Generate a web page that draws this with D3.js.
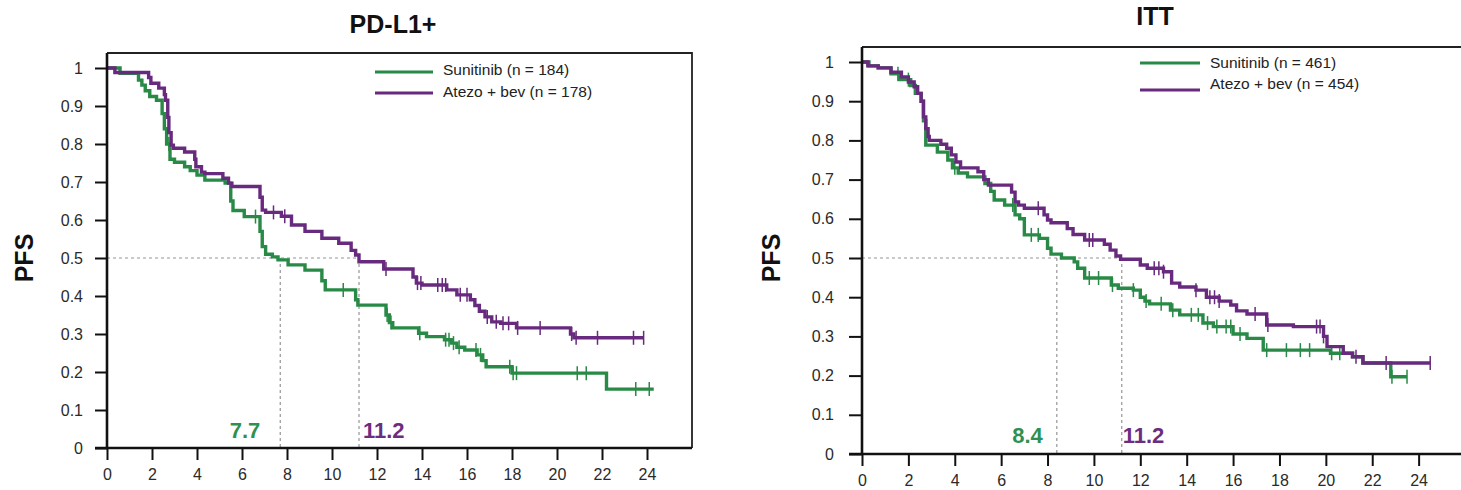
<!DOCTYPE html>
<html><head><meta charset="utf-8">
<script src="https://cdn.jsdelivr.net/npm/d3@7"></script>
<style>
html,body{margin:0;padding:0;background:#fff;}
svg{display:block;font-family:"Liberation Sans",Arial,Helvetica,sans-serif;}
</style></head><body>
<svg id="chart" width="1461" height="490"></svg>
<script>
// ---- Kaplan–Meier step data: [months, PFS probability] ----
const pdl1Sunitinib = [[0,1],[0.58,0.986],[1.4,0.968],[1.55,0.955],[1.7,0.94],[1.9,0.925],[2.2,0.915],[2.45,0.88],[2.55,0.84],[2.65,0.8],[2.8,0.76],[3.0,0.752],[3.45,0.74],[3.7,0.73],[4.0,0.718],[4.35,0.705],[5.25,0.697],[5.5,0.65],[5.6,0.625],[6.1,0.609],[6.8,0.57],[6.9,0.53],[7.05,0.51],[7.35,0.503],[7.6,0.495],[8.05,0.482],[8.8,0.468],[9.55,0.44],[9.7,0.416],[11.05,0.39],[11.15,0.376],[12.4,0.35],[12.55,0.33],[12.7,0.316],[13.85,0.302],[14.2,0.293],[15.0,0.285],[15.3,0.276],[15.55,0.265],[15.9,0.258],[16.45,0.245],[16.7,0.23],[16.85,0.214],[18.0,0.197],[22.2,0.155]];
const pdl1SunitinibEnd = 24.3;
const pdl1SunitinibCensor = [2.75,6.6,10.5,12.45,12.62,13.9,15.05,15.2,15.4,15.65,16.4,16.6,17.9,18.05,18.2,20.9,21.3,23.5,24.1];

const pdl1Atezo = [[0,1],[0.35,0.988],[1.85,0.975],[1.95,0.96],[2.3,0.947],[2.55,0.93],[2.6,0.915],[2.7,0.87],[2.75,0.83],[2.85,0.797],[2.95,0.789],[3.45,0.779],[3.9,0.76],[3.95,0.74],[4.2,0.726],[4.35,0.722],[5.15,0.71],[5.4,0.697],[5.55,0.688],[6.8,0.66],[6.9,0.626],[7.05,0.62],[7.75,0.61],[8.2,0.587],[8.8,0.57],[9.55,0.552],[10.3,0.539],[10.85,0.52],[11.05,0.508],[11.2,0.49],[12.3,0.471],[13.6,0.45],[13.75,0.434],[14.0,0.429],[15.1,0.416],[15.55,0.403],[16.15,0.39],[16.35,0.375],[16.55,0.36],[16.8,0.345],[17.1,0.332],[17.5,0.328],[18.2,0.316],[20.6,0.3],[20.75,0.29]];
const pdl1AtezoEnd = 23.85;
const pdl1AtezoCensor = [7.4,7.9,12.4,13.8,13.95,14.7,14.9,15.05,15.7,16.0,16.9,17.3,17.6,17.85,18.25,19.25,20.65,20.85,21.8,23.4,23.85];

const ittSunitinib = [[0,1],[0.3,0.99],[0.7,0.985],[1.25,0.97],[1.6,0.955],[2.1,0.94],[2.3,0.92],[2.55,0.9],[2.65,0.85],[2.75,0.788],[3.25,0.77],[3.7,0.75],[3.9,0.73],[4.15,0.717],[4.55,0.707],[5.3,0.69],[5.55,0.67],[5.7,0.648],[6.15,0.635],[6.6,0.61],[6.8,0.6],[7.0,0.559],[7.65,0.55],[8.0,0.525],[8.15,0.51],[8.6,0.5],[9.15,0.49],[9.3,0.474],[9.6,0.449],[10.75,0.431],[11.05,0.423],[11.7,0.418],[12.0,0.4],[12.2,0.39],[12.4,0.383],[13.3,0.367],[13.7,0.355],[14.7,0.334],[15.15,0.325],[16.0,0.306],[16.6,0.295],[17.3,0.265],[20.2,0.257],[21.15,0.248],[21.6,0.232],[22.8,0.197]];
const ittSunitinibEnd = 23.5;
const ittSunitinibCensor = [1.55,2.0,4.0,6.5,7.3,7.6,9.8,10.2,10.8,11.7,12.25,12.9,13.4,14.2,14.5,14.9,15.3,15.7,15.9,16.3,17.45,18.3,18.9,19.3,20.25,20.6,22.85,23.5];

const ittAtezo = [[0,1],[0.25,0.99],[0.7,0.985],[1.25,0.974],[1.7,0.962],[2.0,0.949],[2.25,0.937],[2.4,0.92],[2.55,0.9],[2.65,0.86],[2.75,0.83],[2.85,0.81],[2.9,0.8],[3.4,0.79],[3.65,0.78],[3.85,0.763],[4.05,0.745],[4.25,0.73],[5.0,0.72],[5.25,0.7],[5.45,0.686],[6.45,0.668],[6.6,0.643],[6.75,0.635],[7.0,0.627],[7.85,0.61],[8.0,0.597],[8.15,0.59],[8.85,0.575],[9.1,0.56],[9.6,0.546],[10.45,0.535],[10.7,0.52],[10.95,0.505],[11.15,0.497],[12.0,0.482],[12.3,0.474],[13.0,0.465],[13.35,0.436],[13.7,0.426],[14.4,0.418],[14.85,0.4],[15.4,0.39],[15.9,0.38],[16.15,0.365],[16.6,0.357],[17.45,0.329],[18.6,0.325],[19.9,0.3],[20.05,0.274],[20.75,0.257],[21.15,0.248],[21.6,0.232]];
const ittAtezoEnd = 24.5;
const ittAtezoCensor = [7.6,9.8,9.95,12.6,12.8,13.0,14.4,15.0,15.2,15.4,16.95,17.5,19.6,19.75,19.9,21.3,22.6,24.5];

// ---- axis ticks and labels ----
const xTickValues = [0,2,4,6,8,10,12,14,16,18,20,22,24];
const yTickValues = [0,0.1,0.2,0.3,0.4,0.5,0.6,0.7,0.8,0.9,1];
const yTickLabels = ["0","0.1","0.2","0.3","0.4","0.5","0.6","0.7","0.8","0.9","1"];

const seriesNames = ["Sunitinib", "Atezo + bev"];
const pdl1Counts = [184, 178];
const ittCounts = [461, 454];
const pdl1Medians = [7.7, 11.2];
const ittMedians = [8.4, 11.2];
const panelTitles = ["PD-L1+", "ITT"];

const GREEN = "#288a46";
const PURPLE = "#682a7e";
const GREEN_TXT = "#2f9150";
const PURPLE_TXT = "#6c2d80";

const svg = d3.select("#chart");

function survivalAt(steps, t) {
  let v = steps[0][1];
  for (const [tt, s] of steps) { if (tt <= t) v = s; else break; }
  return v;
}

function drawPanel(cfg) {
  const g = svg.append("g");
  const x = d3.scaleLinear().domain([0, 26]).range([cfg.left, cfg.right]);
  const y = d3.scaleLinear().domain([0, 1]).range([cfg.bottom, cfg.top]);

  // title
  g.append("text").attr("x", cfg.titleX).attr("y", cfg.titleY)
    .attr("text-anchor", "middle").attr("font-weight", "bold")
    .attr("font-size", 25).attr("fill", "#111").text(cfg.title);

  // y-axis title
  g.append("text")
    .attr("transform", `translate(${cfg.ylabX},${y(0.5)}) rotate(-90)`)
    .attr("text-anchor", "middle").attr("font-weight", "bold")
    .attr("font-size", 25).attr("fill", "#111").text("PFS");

  // frame (top and right)
  g.append("path")
    .attr("d", `M${cfg.left},${cfg.frameTop}H${cfg.right}V${cfg.bottom}`)
    .attr("fill", "none").attr("stroke", "#222").attr("stroke-width", 1.8);

  // median reference lines
  const ref = g.append("g").attr("stroke", "#959595").attr("stroke-width", 1.2)
    .attr("stroke-dasharray", "3,3");
  ref.append("line").attr("x1", x(0)).attr("x2", x(cfg.medians[1]))
    .attr("y1", y(0.5)).attr("y2", y(0.5));
  cfg.medians.forEach(m => {
    ref.append("line").attr("x1", x(m)).attr("x2", x(m))
      .attr("y1", y(0.5)).attr("y2", y(0));
  });

  // KM curves
  const line = d3.line().x(d => x(d[0])).y(d => y(d[1])).curve(d3.curveStepAfter);
  cfg.series.forEach(s => {
    const pts = s.steps.concat([[s.end, s.steps[s.steps.length - 1][1]]]);
    g.append("path").datum(pts).attr("d", line)
      .attr("fill", "none").attr("stroke", s.color).attr("stroke-width", 3.4)
      .attr("stroke-linejoin", "miter");
    g.append("g").selectAll("line").data(s.censor).join("line")
      .attr("x1", d => x(d)).attr("x2", d => x(d))
      .attr("y1", d => y(survivalAt(s.steps, d)) - 7)
      .attr("y2", d => y(survivalAt(s.steps, d)) + 7)
      .attr("stroke", s.color).attr("stroke-width", 1.5);
  });

  // median labels
  g.append("text").attr("x", x(cfg.medians[0]) + cfg.medOff[0]).attr("y", cfg.medLabelY)
    .attr("text-anchor", "end").attr("font-weight", "bold").attr("font-size", 22)
    .attr("fill", GREEN_TXT).text(String(cfg.medians[0]));
  g.append("text").attr("x", x(cfg.medians[1]) + cfg.medOff[1]).attr("y", cfg.medLabelY)
    .attr("text-anchor", "start").attr("font-weight", "bold").attr("font-size", 22)
    .attr("fill", PURPLE_TXT).text(String(cfg.medians[1]));

  // axes
  const ax = g.append("g").attr("transform", `translate(0,${cfg.bottom})`)
    .call(d3.axisBottom(x).tickValues(xTickValues).tickSize(12).tickPadding(9).tickSizeOuter(0));
  const ay = g.append("g").attr("transform", `translate(${cfg.left},0)`)
    .call(d3.axisLeft(y).tickValues(yTickValues).tickFormat((d, i) => yTickLabels[i])
      .tickSize(cfg.yTick).tickPadding(cfg.yPad).tickSizeOuter(0));
  [ax, ay].forEach(a => {
    a.select(".domain").attr("stroke", "#111").attr("stroke-width", 2.6);
    a.selectAll(".tick line").attr("stroke", "#111").attr("stroke-width", 2);
    a.selectAll(".tick text").attr("font-size", 16).attr("fill", "#2a2a2a")
      .attr("font-family", "'Liberation Sans',Arial,sans-serif");
  });
  ay.select(".domain").attr("d", `M0,${cfg.bottom}V${cfg.frameTop}`);
  ax.select(".domain").attr("d", `M${cfg.left - cfg.yTick},0H${cfg.right}`);

  // legend
  const lg = g.append("g");
  cfg.series.forEach((s, i) => {
    lg.append("line").attr("x1", cfg.legX).attr("x2", cfg.legX + cfg.legLen)
      .attr("y1", cfg.legLineY[i]).attr("y2", cfg.legLineY[i])
      .attr("stroke", s.color).attr("stroke-width", 3);
    lg.append("text").attr("x", cfg.legTextX).attr("y", cfg.legTextY[i])
      .attr("font-size", 15.5).attr("fill", "#222")
      .text(`${seriesNames[i]} (n = ${cfg.counts[i]})`);
  });
}

drawPanel({
  title: panelTitles[0], titleX: 393, titleY: 33,
  left: 107, right: 692, top: 68, bottom: 448, frameTop: 53,
  ylabX: 33, yTick: 12, yPad: 12,
  medians: pdl1Medians, medOff: [-20, 4], medLabelY: 438,
  counts: pdl1Counts,
  legX: 375, legLen: 58, legLineY: [72, 93], legTextX: 443, legTextY: [75, 97],
  series: [
    { steps: pdl1Sunitinib, end: pdl1SunitinibEnd, censor: pdl1SunitinibCensor, color: GREEN },
    { steps: pdl1Atezo, end: pdl1AtezoEnd, censor: pdl1AtezoCensor, color: PURPLE }
  ]
});

drawPanel({
  title: panelTitles[1], titleX: 1155, titleY: 25,
  left: 862, right: 1465, top: 62, bottom: 454, frameTop: 47,
  ylabX: 780, yTick: 13, yPad: 15,
  medians: ittMedians, medOff: [-14, 1], medLabelY: 443,
  counts: ittCounts,
  legX: 1140, legLen: 60, legLineY: [63, 90], legTextX: 1210, legTextY: [68, 89],
  series: [
    { steps: ittSunitinib, end: ittSunitinibEnd, censor: ittSunitinibCensor, color: GREEN },
    { steps: ittAtezo, end: ittAtezoEnd, censor: ittAtezoCensor, color: PURPLE }
  ]
});
</script></body></html>
